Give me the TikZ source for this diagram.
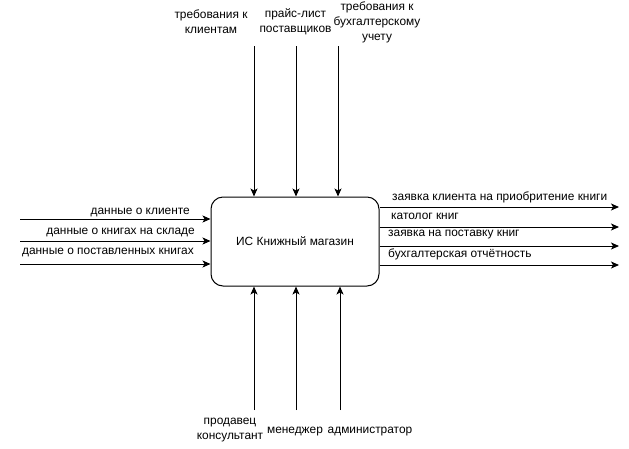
\documentclass[tikz,border=0pt]{standalone}
\usepackage{fontspec}
\setmainfont{Liberation Sans}
\usetikzlibrary{arrows.meta}

\begin{document}
\begin{tikzpicture}[x=1pt,y=-1pt,line cap=butt,line join=miter,>={Stealth[length=8pt,width=7pt,inset=2pt]}]
\tikzset{
    flow/.style=   {->,line width=1pt},
    lbl/.style=    {inner sep=0pt,font=\fontsize{11.9}{15}\selectfont,align=center},
    lblleft/.style={lbl,anchor=east},
    lblright/.style={lbl,anchor=west},
    proc/.style=   {draw,line width=1pt,rounded corners=12pt,minimum width=168pt,minimum height=89pt,inner sep=0pt,font=\fontsize{11.9}{13}\selectfont}
}
\useasboundingbox (0,0) rectangle (629,448);

%% Main block
\node[proc] (box) at (295,241.5) {ИС Книжный магазин};

%% Controls (top)
\coordinate (t1) at (254,46);
\coordinate (t2) at (296,46);
\coordinate (t3) at (338,46);
\draw[flow] (t1) -- (t1 |- box.north);
\draw[flow] (t2) -- (t2 |- box.north);
\draw[flow] (t3) -- (t3 |- box.north);
\node[lbl] (treb) at (211,21.5) {требования к\\клиентам};
\node[lbl] (price) at (295.5,21.5) {прайс-лист\\поставщиков};
\node[lbl] (buh) at (377,22) {требования к\\бухгалтерскому\\учету};

%% Mechanisms (bottom)
\coordinate (b1) at (254,410);
\coordinate (b2) at (296,410);
\coordinate (b3) at (340,410);
\draw[flow] (b1) -- (b1 |- box.south);
\draw[flow] (b2) -- (b2 |- box.south);
\draw[flow] (b3) -- (b3 |- box.south);
\node[lbl] (prod) at (230,430.5) {продавец\\консультант};
\node[lbl] (meng) at (295,432) {менеджер};
\node[lbl] (adm) at (370,432) {администратор};

%% Inputs (left)
\coordinate (l1) at (20,219);
\coordinate (l2) at (20,241);
\coordinate (l3) at (20,264);
\draw[flow] (l1) -- (l1 -| box.west);
\draw[flow] (l2) -- (l2 -| box.west);
\draw[flow] (l3) -- (l3 -| box.west);
\node[lblleft] (in1) at (190,212) {данные о клиенте};
\node[lblleft] (in2) at (195,232) {данные о книгах на складе};
\node[lblleft] (in3) at (194,252) {данные о поставленных книгах};

%% Outputs (right)
\coordinate (r1) at (619,207);
\coordinate (r2) at (619,227);
\coordinate (r3) at (619,246);
\coordinate (r4) at (619,265);
\draw[flow] (r1 -| box.east) -- (r1);
\draw[flow] (r2 -| box.east) -- (r2);
\draw[flow] (r3 -| box.east) -- (r3);
\draw[flow] (r4 -| box.east) -- (r4);
\node[lblright] (out1) at (392,197) {заявка клиента на приобритение книги};
\node[lblright] (out2) at (391,216) {католог книг};
\node[lblright] (out3) at (388,235) {заявка на поставку книг};
\node[lblright] (out4) at (388,254) {бухгалтерская отчётность};

\end{tikzpicture}
\end{document}
